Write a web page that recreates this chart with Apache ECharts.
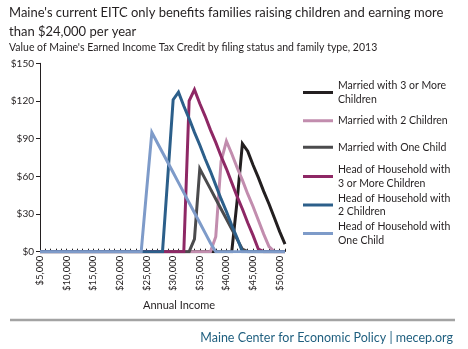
<!DOCTYPE html>
<html>
<head>
<meta charset="utf-8">
<script src="https://cdn.jsdelivr.net/npm/echarts@6/dist/echarts.min.js"></script>
<style>
html,body{margin:0;padding:0;background:#fff;}
#chart{width:468px;height:349px;}
</style>
</head>
<body>
<div id="chart"></div>
<script>
// Annual income categories ($1,000 steps)
var categories = ["$5,000","$6,000","$7,000","$8,000","$9,000","$10,000","$11,000","$12,000","$13,000","$14,000",
  "$15,000","$16,000","$17,000","$18,000","$19,000","$20,000","$21,000","$22,000","$23,000","$24,000",
  "$25,000","$26,000","$27,000","$28,000","$29,000","$30,000","$31,000","$32,000","$33,000","$34,000",
  "$35,000","$36,000","$37,000","$38,000","$39,000","$40,000","$41,000","$42,000","$43,000","$44,000",
  "$45,000","$46,000","$47,000","$48,000","$49,000","$50,000","$51,000"];

var seriesNames = ["Married with 3 or More Children","Married with 2 Children","Married with One Child",
  "Head of Household with 3 or More Children","Head of Household with 2 Children","Head of Household with One Child"];

var yTicks = [0, 30, 60, 90, 120, 150];

//                         5k ............................................ 24k | 25k ...
var married3 = [0,0,0,0,0,0,0,0,0,0, 0,0,0,0,0,0,0,0,0,0, 0,0,0,0,0,0,0,0,0,0, 0,0,0,0,0,0,0,40,86,80, 69,59,48,38,27,16,6];
var married2 = [0,0,0,0,0,0,0,0,0,0, 0,0,0,0,0,0,0,0,0,0, 0,0,0,0,0,0,0,0,0,0, 0,0,0,12,72,88,78,67,57,46, 36,25,14,4,0,0,0];
var married1 = [0,0,0,0,0,0,0,0,0,0, 0,0,0,0,0,0,0,0,0,0, 0,0,0,0,0,0,0,0,0,10, 66,58,50,42,34,26,18,10,2,0, 0,0,0,0,0,0,0];
var hoh3     = [0,0,0,0,0,0,0,0,0,0, 0,0,0,0,0,0,0,0,0,0, 0,0,0,0,0,0,0,0,120,129, 118,108,97,87,76,66,55,44,34,23, 13,2,0,0,0,0,0];
var hoh2     = [0,0,0,0,0,0,0,0,0,0, 0,0,0,0,0,0,0,0,0,0, 0,0,0,0,60,121,127,116,106,95, 85,74,64,53,42,32,21,11,0,0, 0,0,0,0,0,0,0];
var hoh1     = [0,0,0,0,0,0,0,0,0,0, 0,0,0,0,0,0,0,0,0,0, 48,95,87,79,71,63,55,47,39,31, 23,15,7,0,0,0,0,0,0,0, 0,0,0,0,0,0,0];

var seriesData = [married3, married2, married1, hoh3, hoh2, hoh1];
var colors = ["#231f20", "#c28dae", "#4b4b4d", "#8e2865", "#2c5f8a", "#7e9bc9"];
var legendLabels = ["Married with 3 or More\nChildren", "Married with 2 Children", "Married with One Child",
  "Head of Household with\n3 or More Children", "Head of Household with\n2 Children", "Head of Household with\nOne Child"];
var legendTops = [79, 114, 140.5, 163, 191.5, 220];

var FONT = "Lato";
var txt = "#231f20";

var legends = seriesNames.map(function (n, i) {
  return {
    data: [n], left: 303, top: legendTops[i], padding: 0, selectedMode: false,
    icon: 'rect', itemWidth: 30, itemHeight: 3,
    formatter: function () { return legendLabels[i]; },
    textStyle: { fontFamily: FONT, fontSize: 10.5, lineHeight: 13.5, color: txt }
  };
});

var chart = echarts.init(document.getElementById('chart'), null, { renderer: 'canvas' });
chart.setOption({
  animation: false,
  backgroundColor: '#fff',
  color: colors,
  title: [
    { text: "Maine's current EITC only benefits families raising children and earning more\nthan $24,000 per year",
      left: 9, top: 3, padding: 0,
      textStyle: { fontFamily: FONT, fontSize: 13, fontWeight: 'normal', lineHeight: 19, color: txt } },
    { text: "Value of Maine's Earned Income Tax Credit by filing status and family type, 2013",
      left: 9, top: 42, padding: 0,
      textStyle: { fontFamily: FONT, fontSize: 10.5, fontWeight: 'normal', color: txt } },
    { text: "Annual Income", left: 143, top: 300, padding: 0,
      textStyle: { fontFamily: FONT, fontSize: 11, fontWeight: 'normal', color: txt } },
    { text: "Maine Center for Economic Policy | mecep.org", right: 15, top: 331, padding: 0,
      textStyle: { fontFamily: FONT, fontSize: 12.5, fontWeight: 'normal', color: '#1f5f7f' } }
  ],
  legend: legends,
  grid: { left: 40, right: 183, top: 63.3, bottom: 97.3, containLabel: false },
  xAxis: {
    type: 'category', data: categories, boundaryGap: false,
    axisLine: { lineStyle: { color: '#231f20', width: 1 } },
    axisTick: { show: true, inside: true, length: 3, interval: 0, lineStyle: { color: '#231f20' } },
    axisLabel: { interval: 4, rotate: 90, margin: 4, fontFamily: FONT, fontSize: 9.5, color: txt },
    splitLine: { show: false }
  },
  yAxis: {
    type: 'value', min: 0, max: 150, interval: 30,
    axisLine: { show: true, lineStyle: { color: '#231f20', width: 1 } },
    axisTick: { show: true, length: 4, lineStyle: { color: '#231f20' } },
    axisLabel: { margin: 6, fontFamily: FONT, fontSize: 10, color: txt, formatter: function (v) { return '$' + v; } },
    splitLine: { show: false }
  },
  series: seriesNames.map(function (n, i) {
    return { name: n, type: 'line', data: seriesData[i], showSymbol: false, symbol: 'none',
      lineStyle: { width: 3, color: colors[i], join: 'miter' }, itemStyle: { color: colors[i] } };
  }),
  graphic: [
    { type: 'line', shape: { x1: 10, y1: 320, x2: 455, y2: 320 }, style: { stroke: '#a3a3a3', lineWidth: 2.5 } }
  ]
});
</script>
</body>
</html>
